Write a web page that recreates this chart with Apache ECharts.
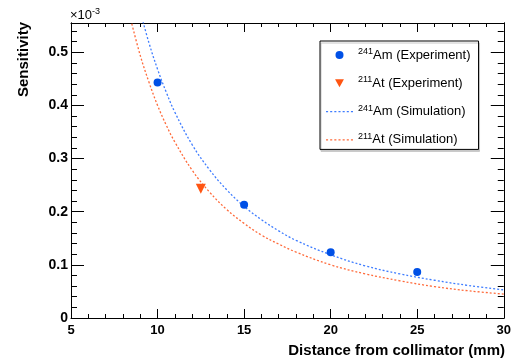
<!DOCTYPE html>
<html>
<head>
<meta charset="utf-8">
<script src="https://cdn.jsdelivr.net/npm/echarts@6/dist/echarts.min.js"></script>
<style>
  html, body { margin: 0; padding: 0; background: #fff; }
  #chart { width: 514px; height: 361px; }
</style>
</head>
<body>
<div id="chart"></div>
<script>
// values (sensitivity in units of 1e-3)
const amExpX = [10, 15, 20, 25];
const amExpY = [0.443, 0.213, 0.1235, 0.0865];
const atExpX = [12.5];
const atExpY = [0.243];

const amSimX = [9.1, 9.5, 10, 10.5, 11, 12, 13, 14, 15, 16, 17, 18, 20, 22, 24, 26, 28, 30];
const amSimY = [0.565, 0.518, 0.468, 0.425, 0.387, 0.326, 0.279, 0.241, 0.210, 0.185, 0.164, 0.146, 0.119, 0.098, 0.083, 0.071, 0.061, 0.053];
const atSimX = [8.4, 9, 9.5, 10, 10.5, 11, 12, 13, 14, 15, 16, 17, 18, 20, 22, 24, 26, 28, 30];
const atSimY = [0.568, 0.494, 0.444, 0.400, 0.363, 0.331, 0.278, 0.237, 0.204, 0.178, 0.156, 0.139, 0.124, 0.100, 0.083, 0.070, 0.059, 0.051, 0.045];

const legendNames = ['Am exp', 'At exp', 'Am sim', 'At sim'];
const legendLabels = {
  'Am exp': '{sup|241}{t|Am (Experiment)}',
  'At exp': '{sup|211}{t|At (Experiment)}',
  'Am sim': '{sup|241}{t|Am (Simulation)}',
  'At sim': '{sup|211}{t|At (Simulation)}'
};

const font = "'Liberation Sans', Arial, Helvetica, sans-serif";
const zip = (xs, ys) => xs.map((x, i) => [x, ys[i]]);

const black = { color: '#000', width: 1 };
const blueLine = '#3f7dff';
const redLine = '#ff6a3a';

// small dotted-line legend icon (a row of tiny dashes)
let dots = '';
for (let i = 0; i < 7; i++) dots += 'M' + (i * 4) + ',0h2v1.3h-2z ';
const dottedIcon = 'path://' + dots;

const xAxisBase = (pos, labels) => ({
  type: 'value',
  position: pos,
  min: 5,
  max: 30,
  interval: 5,
  axisLine: { show: true, onZero: false, lineStyle: black },
  axisTick: { show: true, inside: true, length: 9, lineStyle: black },
  minorTick: { show: true, splitNumber: 5, length: 4, lineStyle: black },
  splitLine: { show: false },
  minorSplitLine: { show: false },
  axisLabel: {
    show: labels,
    color: '#000',
    fontFamily: font,
    fontWeight: 'bold',
    fontSize: 13,
    margin: 6
  }
});

const yAxisBase = (pos, step, len, labels) => ({
  type: 'value',
  position: pos,
  min: 0,
  max: 0.555,
  interval: step,
  axisLine: { show: true, onZero: false, lineStyle: black },
  axisTick: { show: true, inside: true, length: len, lineStyle: black },
  splitLine: { show: false },
  axisLabel: {
    show: labels,
    showMaxLabel: false,
    color: '#000',
    fontFamily: font,
    fontWeight: 'bold',
    fontSize: 14,
    margin: 3
  }
});

const chart = echarts.init(document.getElementById('chart'), null, { renderer: 'canvas' });

chart.setOption({
  backgroundColor: '#fff',
  animation: false,
  textStyle: { fontFamily: font },
  title: {
    text: '×10{sup|-3}',
    left: 70,
    top: 7,
    padding: 0,
    textStyle: {
      fontFamily: font,
      fontWeight: 'normal',
      fontSize: 13,
      color: '#000',
      lineHeight: 16,
      rich: {
        sup: { fontSize: 9, verticalAlign: 'top', lineHeight: 10, fontFamily: font, color: '#000' }
      }
    }
  },
  grid: { left: 71, right: 9, top: 23, bottom: 43, containLabel: false },
  xAxis: [xAxisBase('bottom', true), xAxisBase('top', false)],
  yAxis: [
    yAxisBase('left', 0.1, 13, true),
    yAxisBase('left', 0.02, 6, false),
    yAxisBase('right', 0.1, 13, false),
    yAxisBase('right', 0.02, 6, false)
  ],
  legend: {
    orient: 'vertical',
    left: 320,
    top: 41,
    padding: [6, 8, 3, 6],
    itemGap: 13.8,
    itemWidth: 27,
    itemHeight: 8,
    symbolKeepAspect: true,
    backgroundColor: '#fff',
    borderColor: '#000',
    borderWidth: 1,
    shadowColor: '#c8c8c8',
    shadowBlur: 0,
    shadowOffsetX: 1,
    shadowOffsetY: 2,
    data: [
      { name: legendNames[0], icon: 'circle' },
      { name: legendNames[1], icon: 'path://M0,0 L10,0 L5,9 Z' },
      { name: legendNames[2], icon: dottedIcon },
      { name: legendNames[3], icon: dottedIcon }
    ],
    formatter: (name) => legendLabels[name],
    textStyle: {
      color: '#000',
      fontFamily: font,
      fontSize: 13,
      rich: {
        sup: { fontSize: 9, lineHeight: 16, verticalAlign: 'top', fontFamily: font, color: '#000' },
        t: { fontSize: 13, lineHeight: 16, fontFamily: font, color: '#000' }
      }
    }
  },
  graphic: [
    {
      type: 'text',
      x: 24,
      y: 22,
      rotation: Math.PI / 2,
      style: {
        text: 'Sensitivity',
        font: 'bold 15px ' + font,
        textAlign: 'right',
        textVerticalAlign: 'middle',
        fill: '#000'
      }
    },
    {
      type: 'text',
      x: 505,
      y: 351,
      style: {
        text: 'Distance from collimator (mm)',
        font: 'bold 15px ' + font,
        textAlign: 'right',
        textVerticalAlign: 'middle',
        fill: '#000'
      }
    }
  ],
  series: [
    {
      name: 'Am sim',
      type: 'line',
      data: zip(amSimX, amSimY),
      smooth: 0.4,
      symbol: 'none',
      clip: true,
      z: 2,
      lineStyle: { color: blueLine, width: 1.3, type: [2, 2] },
      itemStyle: { color: blueLine }
    },
    {
      name: 'At sim',
      type: 'line',
      data: zip(atSimX, atSimY),
      smooth: 0.4,
      symbol: 'none',
      clip: true,
      z: 2,
      lineStyle: { color: redLine, width: 1.3, type: [2, 2] },
      itemStyle: { color: redLine }
    },
    {
      name: 'Am exp',
      type: 'scatter',
      data: zip(amExpX, amExpY),
      symbol: 'circle',
      symbolSize: 8,
      z: 3,
      itemStyle: { color: '#0050e6', opacity: 1 }
    },
    {
      name: 'At exp',
      type: 'scatter',
      data: zip(atExpX, atExpY),
      symbol: 'triangle',
      symbolRotate: 180,
      symbolSize: 10,
      z: 3,
      itemStyle: { color: '#ff5512', opacity: 1 }
    }
  ]
});
</script>
</body>
</html>
